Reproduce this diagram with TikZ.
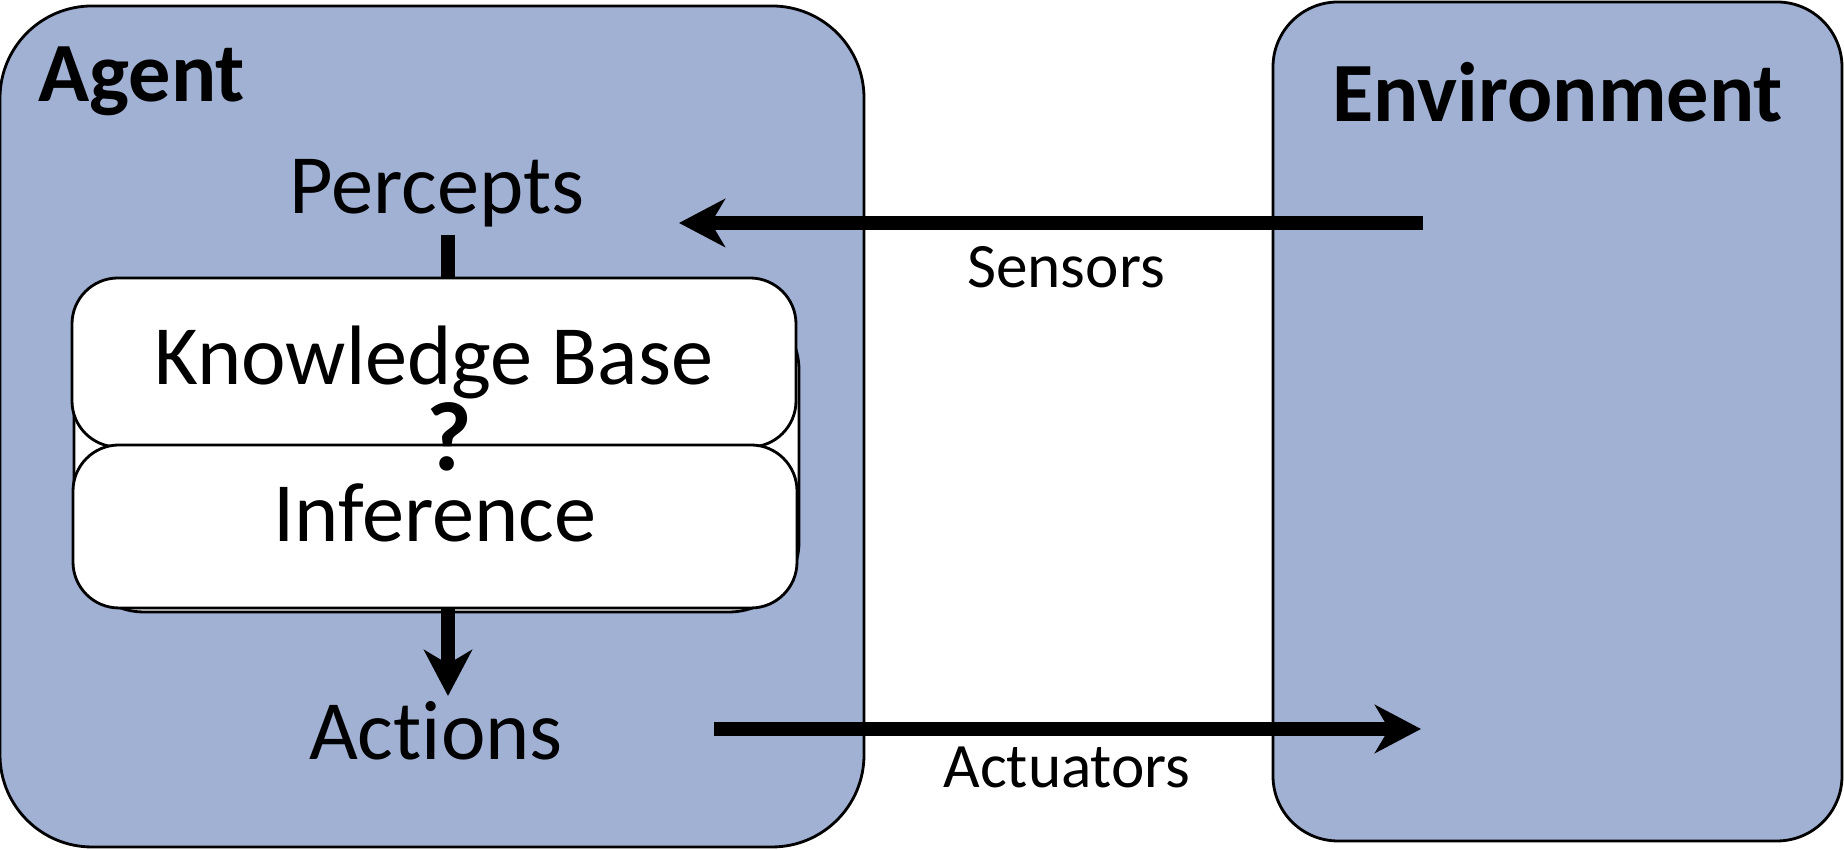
\documentclass[tikz,border=0pt]{standalone}
\usepackage{fontspec}
\setmainfont{Carlito}[Ligatures=NoCommon]
\usetikzlibrary{positioning,arrows.meta}
\definecolor{agentblue}{HTML}{A1B1D3}

\begin{document}
\begin{tikzpicture}[
  panel/.style={draw=black,line width=0.8pt,fill=agentblue,rounded corners=#1},
  layer/.style={draw=black,line width=0.8pt,fill=white,rounded corners=0.46cm,minimum width=7.24cm,font=\fontsize{24}{28}\selectfont},
  big/.style={inner sep=0pt,font=\fontsize{24}{28}\selectfont},
  bigbold/.style={inner sep=0pt,font=\fontsize{24}{28}\selectfont\bfseries},
  small/.style={inner sep=0pt,font=\fontsize{18}{22}\selectfont},
  flow/.style={line width=4pt,-{Stealth[length=0.46cm,width=0.48cm,inset=0.14cm]}}
]
\useasboundingbox (0,0) rectangle (18.44,8.5);
\node[panel=0.92cm,minimum width=8.64cm,minimum height=8.41cm] (agent) at (4.32,4.235) {};
\node[panel=0.65cm,minimum width=5.69cm,minimum height=8.39cm] (env) at (15.575,4.285) {};
\node[bigbold,anchor=base west] (agentlbl) at (0.38,7.48) {Agent};
\node[bigbold,anchor=base west] (envlbl) at (13.32,7.28) {Environment};
\node[big,anchor=base] (percepts) at (4.37,6.36) {Percepts};
\node[big,anchor=base] (actions) at (4.36,0.90) {Actions};
\node[layer,rounded corners=0.7cm,minimum width=7.25cm,minimum height=3.12cm] (kbback) at (4.365,3.94) {};
\node[layer,minimum height=1.69cm] (kb) at (4.34,4.875) {Knowledge Base};
\node[layer,minimum height=1.63cm,text depth=0.28cm] (inf) at (4.35,3.235) {Inference};
\node[bigbold,font=\fontsize{28}{32}\selectfont\bfseries,anchor=base] (qmark) at (4.49,3.79) {?};
\node[small,anchor=base] (sensors) at (10.66,5.62) {Sensors};
\node[small,anchor=base] (actuators) at (10.67,0.62) {Actuators};
\coordinate (sensfrom) at (14.23,6.27);
\coordinate (sensto) at (6.79,6.27);
\coordinate (actfrom) at (7.14,1.21);
\coordinate (actto) at (14.21,1.21);
\coordinate (pdrop) at (4.48,6.15);
\coordinate (adrop) at (4.48,1.54);
\draw[flow] (sensfrom) -- (sensto);
\draw[flow] (actfrom) -- (actto);
\draw[line width=4pt] (pdrop) -- (pdrop |- kb.north);
\draw[flow] (adrop |- inf.south) -- (adrop);
\end{tikzpicture}
\end{document}
